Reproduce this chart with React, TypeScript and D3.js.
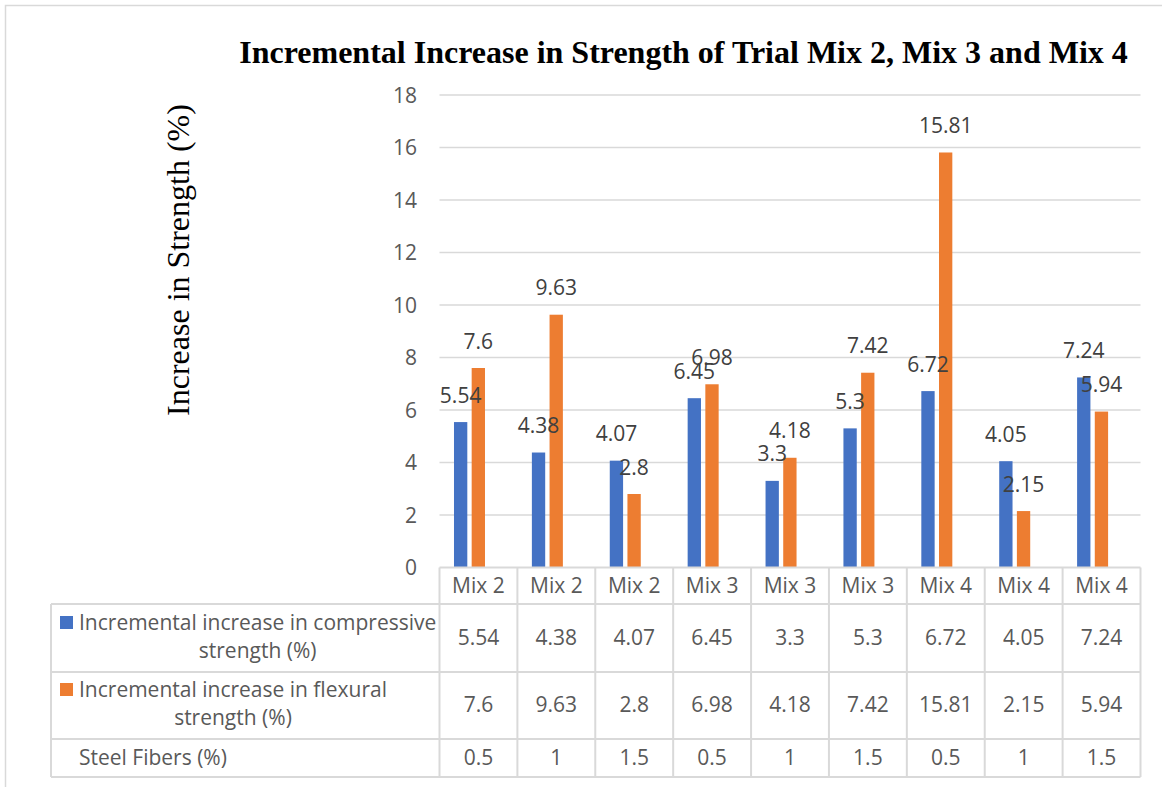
import React, { useEffect, useRef } from "react";
import * as d3 from "d3";

// Chart data
const mixes = ["Mix 2", "Mix 2", "Mix 2", "Mix 3", "Mix 3", "Mix 3", "Mix 4", "Mix 4", "Mix 4"];
const compressive = [5.54, 4.38, 4.07, 6.45, 3.3, 5.3, 6.72, 4.05, 7.24];
const flexural = [7.6, 9.63, 2.8, 6.98, 4.18, 7.42, 15.81, 2.15, 5.94];
const steelFibers = ["0.5", "1", "1.5", "0.5", "1", "1.5", "0.5", "1", "1.5"];
const yTicks = [0, 2, 4, 6, 8, 10, 12, 14, 16, 18];

const seriesNames = [
  ["Incremental increase in compressive", "strength (%)"],
  ["Incremental increase in flexural", "strength (%)"],
];
const seriesColors = ["#4472C4", "#ED7D31"];

const W = 1162;
const H = 787;
const SANS = "'Open Sans', sans-serif";
const SERIF = "'Liberation Serif', 'Times New Roman', serif";
const GRID = "#d9d9d9";
const TXT = "#595959";
const FS = 21;

export default function App() {
  const ref = useRef<SVGSVGElement | null>(null);

  useEffect(() => {
    const svg = d3.select(ref.current);
    svg.selectAll("*").remove();

    const left = 439.5;
    const right = 1140.5;
    const top = 95;
    const base = 567.5;
    const tableLeft = 51;
    const rowLines = [604, 672, 739, 777];

    const x = d3.scaleBand<number>().domain(d3.range(mixes.length)).range([left, right]);
    const y = d3.scaleLinear().domain([0, 18]).range([base, top]);
    const bw = x.bandwidth();

    // outer chart frame
    svg.append("rect")
      .attr("x", 5.5).attr("y", 5.5).attr("width", W + 20).attr("height", H + 20)
      .attr("fill", "white").attr("stroke", GRID).attr("stroke-width", 1.5);

    // title
    svg.append("text")
      .attr("x", 683.5).attr("y", 63)
      .attr("text-anchor", "middle")
      .attr("font-family", SERIF).attr("font-weight", "bold").attr("font-size", 32)
      .attr("fill", "#000")
      .text("Incremental Increase in Strength of Trial Mix 2, Mix 3 and Mix 4");

    // y axis title
    svg.append("text")
      .attr("transform", `translate(189,260) rotate(-90)`)
      .attr("text-anchor", "middle")
      .attr("font-family", SERIF).attr("font-size", 32)
      .attr("fill", "#000")
      .text("Increase in Strength (%)");

    // gridlines
    svg.append("g").selectAll("line")
      .data(yTicks.filter((t) => t > 0))
      .join("line")
      .attr("x1", left).attr("x2", right)
      .attr("y1", (d) => y(d)).attr("y2", (d) => y(d))
      .attr("stroke", GRID).attr("stroke-width", 1.5);

    // y tick labels
    svg.append("g").selectAll("text")
      .data(yTicks)
      .join("text")
      .attr("x", 417).attr("y", (d) => y(d) + 7.5)
      .attr("text-anchor", "end")
      .attr("font-family", SANS).attr("font-size", FS).attr("fill", TXT)
      .text((d) => d);

    // bars
    const series = [compressive, flexural];
    const offsets = [0.186, 0.413];
    const barW = bw * 0.171;
    series.forEach((vals, s) => {
      const g = svg.append("g");
      g.selectAll("rect")
        .data(vals)
        .join("rect")
        .attr("x", (_, i) => (x(i) as number) + bw * offsets[s])
        .attr("y", (d) => y(d))
        .attr("width", barW)
        .attr("height", (d) => base - y(d))
        .attr("fill", seriesColors[s]);
    });
    // data labels
    series.forEach((vals, s) => {
      svg.append("g").selectAll("text")
        .data(vals)
        .join("text")
        .attr("x", (_, i) => (x(i) as number) + bw * offsets[s] + barW / 2)
        .attr("y", (d) => y(d) - 19.5)
        .attr("text-anchor", "middle")
        .attr("font-family", SANS).attr("font-size", FS).attr("fill", "#404040")
        .text((d) => d);
    });

    // data table grid
    const tg = svg.append("g").attr("stroke", GRID).attr("stroke-width", 2);
    tg.append("line").attr("x1", left).attr("x2", right).attr("y1", base).attr("y2", base);
    rowLines.forEach((ry) => {
      tg.append("line").attr("x1", tableLeft).attr("x2", right).attr("y1", ry).attr("y2", ry);
    });
    tg.append("line").attr("x1", tableLeft).attr("x2", tableLeft).attr("y1", rowLines[0]).attr("y2", rowLines[3]);
    d3.range(mixes.length + 1).forEach((i) => {
      const cx = i < mixes.length ? (x(i) as number) : right;
      tg.append("line").attr("x1", cx).attr("x2", cx).attr("y1", base).attr("y2", rowLines[3]);
    });

    const cell = (vals: (string | number)[], by: number) => {
      svg.append("g").selectAll("text")
        .data(vals)
        .join("text")
        .attr("x", (_, i) => (x(i) as number) + bw / 2)
        .attr("y", by)
        .attr("text-anchor", "middle")
        .attr("font-family", SANS).attr("font-size", FS).attr("fill", TXT)
        .text((d) => d);
    };
    cell(mixes, 593);
    cell(compressive, 645);
    cell(flexural, 712);
    cell(steelFibers, 765);

    // row headers with legend keys
    const headerTop = [616, 683];
    const line1 = [630, 697];
    const line2 = [658, 725];
    seriesNames.forEach((lines, s) => {
      svg.append("rect")
        .attr("x", 60).attr("y", headerTop[s]).attr("width", 13).attr("height", 13)
        .attr("fill", seriesColors[s]);
      const t1 = svg.append("text")
        .attr("x", 79).attr("y", line1[s])
        .attr("font-family", SANS).attr("font-size", FS).attr("fill", TXT)
        .text(lines[0]);
      const w1 = (t1.node() as SVGTextElement).getComputedTextLength();
      svg.append("text")
        .attr("x", 79 + w1 / 2).attr("y", line2[s])
        .attr("text-anchor", "middle")
        .attr("font-family", SANS).attr("font-size", FS).attr("fill", TXT)
        .text(lines[1]);
    });
    svg.append("text")
      .attr("x", 79).attr("y", 765)
      .attr("font-family", SANS).attr("font-size", FS).attr("fill", TXT)
      .text("Steel Fibers (%)");
  }, []);

  return (
    <svg
      ref={ref}
      width={W}
      height={H}
      style={{ position: "absolute", left: 0, top: 0, background: "white" }}
    />
  );
}
